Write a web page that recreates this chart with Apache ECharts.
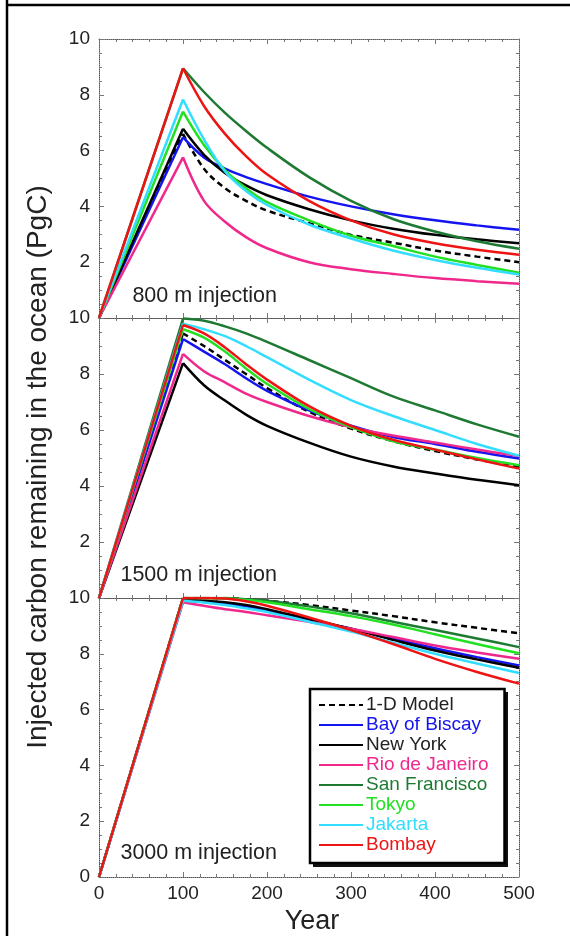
<!DOCTYPE html>
<html><head><meta charset="utf-8">
<script src="https://cdn.jsdelivr.net/npm/echarts@6/dist/echarts.min.js"></script>
<style>html,body{margin:0;padding:0;background:#fff}#c{width:570px;height:936px}</style>
</head><body><div id="c"></div>
<script>
// ---------- data ----------
const years = [0, 100, 125, 150, 175, 200, 250, 300, 350, 400, 450, 500];
const seriesNames = ['1-D Model', 'Bay of Biscay', 'New York', 'Rio de Janeiro', 'San Francisco', 'Tokyo', 'Jakarta', 'Bombay'];
const seriesColors = ['#000000', '#1414f0', '#000000', '#f0288c', '#1e7a32', '#22e022', '#33ddff', '#ee1414'];
const panelLabels = ['800 m injection', '1500 m injection', '3000 m injection'];
const xTicks = [0, 100, 200, 300, 400, 500];
const yTicks = [0, 2, 4, 6, 8, 10];

// 800 m injection
const d800_1D       = [0, 6.60, 5.35, 4.65, 4.20, 3.85, 3.40, 2.98, 2.70, 2.42, 2.20, 2.00];
const d800_Biscay   = [0, 6.48, 5.75, 5.35, 5.05, 4.80, 4.35, 4.00, 3.72, 3.50, 3.32, 3.16];
const d800_NewYork  = [0, 6.78, 5.85, 5.20, 4.75, 4.40, 3.90, 3.50, 3.20, 2.98, 2.82, 2.68];
const d800_Rio      = [0, 5.76, 4.20, 3.45, 2.90, 2.50, 2.00, 1.75, 1.58, 1.43, 1.32, 1.23];
const d800_SanFran  = [0, 8.95, 8.10, 7.35, 6.70, 6.10, 5.05, 4.20, 3.55, 3.10, 2.75, 2.48];
const d800_Tokyo    = [0, 7.40, 6.20, 5.30, 4.65, 4.15, 3.50, 2.95, 2.58, 2.20, 1.90, 1.62];
const d800_Jakarta  = [0, 7.83, 6.40, 5.25, 4.55, 4.05, 3.35, 2.85, 2.42, 2.08, 1.80, 1.56];
const d800_Bombay   = [0, 8.95, 7.60, 6.60, 5.80, 5.15, 4.20, 3.50, 3.00, 2.68, 2.45, 2.27];

// 1500 m injection
const d1500_1D      = [0, 9.45, 9.00, 8.50, 8.00, 7.50, 6.65, 6.05, 5.60, 5.25, 4.95, 4.68];
const d1500_Biscay  = [0, 9.25, 8.80, 8.35, 7.85, 7.40, 6.70, 6.15, 5.75, 5.50, 5.22, 4.98];
const d1500_NewYork = [0, 8.39, 7.60, 7.05, 6.55, 6.15, 5.55, 5.05, 4.70, 4.45, 4.22, 4.03];
const d1500_Rio     = [0, 8.72, 8.10, 7.70, 7.30, 7.00, 6.50, 6.10, 5.80, 5.55, 5.30, 5.07];
const d1500_SanFran = [0, 9.98, 9.90, 9.70, 9.45, 9.15, 8.50, 7.85, 7.20, 6.70, 6.20, 5.76];
const d1500_Tokyo   = [0, 9.60, 9.30, 8.80, 8.20, 7.65, 6.75, 6.10, 5.60, 5.30, 5.00, 4.74];
const d1500_Jakarta = [0, 9.80, 9.60, 9.35, 9.00, 8.60, 7.80, 7.07, 6.50, 6.00, 5.50, 5.08];
const d1500_Bombay  = [0, 9.75, 9.45, 8.95, 8.35, 7.80, 6.85, 6.15, 5.65, 5.30, 4.95, 4.62];

// 3000 m injection
const d3000_1D      = [0, 10.0, 10.0, 10.0, 9.95, 9.90, 9.75, 9.55, 9.35, 9.13, 8.93, 8.74];
const d3000_Biscay  = [0, 9.90, 9.86, 9.80, 9.70, 9.55, 9.20, 8.90, 8.55, 8.20, 7.88, 7.58];
const d3000_NewYork = [0, 9.95, 9.90, 9.85, 9.75, 9.60, 9.25, 8.90, 8.50, 8.12, 7.80, 7.50];
const d3000_Rio     = [0, 9.85, 9.72, 9.60, 9.50, 9.38, 9.15, 8.90, 8.60, 8.30, 8.05, 7.82];
const d3000_SanFran = [0, 10.0, 10.0, 10.0, 9.95, 9.90, 9.70, 9.45, 9.15, 8.85, 8.55, 8.24];
const d3000_Tokyo   = [0, 10.0, 10.0, 9.98, 9.93, 9.85, 9.60, 9.35, 9.05, 8.70, 8.35, 8.02];
const d3000_Jakarta = [0, 9.90, 9.84, 9.75, 9.63, 9.50, 9.15, 8.80, 8.40, 8.00, 7.65, 7.31];
const d3000_Bombay  = [0, 10.0, 10.0, 9.98, 9.88, 9.72, 9.30, 8.85, 8.35, 7.82, 7.35, 6.93];

const panels = [
  [d800_1D, d800_Biscay, d800_NewYork, d800_Rio, d800_SanFran, d800_Tokyo, d800_Jakarta, d800_Bombay],
  [d1500_1D, d1500_Biscay, d1500_NewYork, d1500_Rio, d1500_SanFran, d1500_Tokyo, d1500_Jakarta, d1500_Bombay],
  [d3000_1D, d3000_Biscay, d3000_NewYork, d3000_Rio, d3000_SanFran, d3000_Tokyo, d3000_Jakarta, d3000_Bombay]
];

// ---------- layout ----------
const FONT = "'Liberation Sans', Arial, Helvetica, sans-serif";
const gridTops = [39, 318, 598];
const gridHeights = [279, 280, 279];
const frameLine = { show: true, onZero: false, lineStyle: { color: '#555', width: 1, type: 'dotted' } };
const tickStyle = { color: '#777', width: 1 };

const grids = [], xAxes = [], yAxes = [], series = [];
for (let p = 0; p < 3; p++) {
  grids.push({ left: 99, right: 51, top: gridTops[p], height: gridHeights[p], containLabel: false });
  const xBase = {
    type: 'value', gridIndex: p, min: xTicks[0], max: xTicks[xTicks.length - 1], interval: xTicks[1] - xTicks[0],
    axisLine: frameLine, splitLine: { show: false },
    axisTick: { show: true, inside: true, length: 5, lineStyle: tickStyle },
    minorTick: { show: true, splitNumber: 5, length: 3, lineStyle: tickStyle }
  };
  xAxes.push(Object.assign({}, xBase, {
    position: 'bottom',
    axisLabel: { show: p === 2, fontSize: 19, fontFamily: FONT, color: '#222', margin: 7 }
  }));
  xAxes.push(Object.assign({}, xBase, { position: 'top', axisLabel: { show: false } }));
  const yBase = {
    type: 'value', gridIndex: p, min: yTicks[0], max: yTicks[yTicks.length - 1], interval: yTicks[1] - yTicks[0],
    axisLine: frameLine, splitLine: { show: false },
    axisTick: { show: true, inside: true, length: 5, lineStyle: tickStyle },
    minorTick: { show: true, splitNumber: 4, length: 3, lineStyle: tickStyle }
  };
  yAxes.push(Object.assign({}, yBase, {
    position: 'left',
    axisLabel: { show: true, showMinLabel: p === 2, fontSize: 19, fontFamily: FONT, color: '#222', margin: 9,
                 padding: [0, 0, 8, 0] }
  }));
  yAxes.push(Object.assign({}, yBase, { position: 'right', axisLabel: { show: false } }));

  panels[p].forEach((vals, k) => {
    const pts = years.map((y, i) => [y, vals[i]]);
    const ls = { color: seriesColors[k], width: 2.5, type: k === 0 ? [6, 4] : 'solid' };
    const common = {
      type: 'line', name: seriesNames[k], xAxisIndex: 2 * p, yAxisIndex: 2 * p,
      showSymbol: false, symbol: 'none', lineStyle: ls, itemStyle: { color: seriesColors[k] },
      emphasis: { disabled: true }, z: 2 + k
    };
    series.push(Object.assign({}, common, { data: pts.slice(0, 2), smooth: false }));
    series.push(Object.assign({}, common, { data: pts.slice(1), smooth: 0.35 }));
  });
}

const graphics = [
  { type: 'line', shape: { x1: 7, y1: 0, x2: 7, y2: 936 }, style: { stroke: '#000', lineWidth: 2.5 }, z: 100 },
  { type: 'line', shape: { x1: 6, y1: 5, x2: 570, y2: 5 }, style: { stroke: '#000', lineWidth: 2.5 }, z: 100 },
  { type: 'rect', shape: { x: 534, y: 880, width: 36, height: 26 }, style: { fill: '#fff' }, z: 100 },
  // legend drop shadow
  { type: 'rect', shape: { x: 313, y: 692, width: 195, height: 175 }, style: { fill: '#111' }, z: 1 },
  { type: 'text', x: 38, y: 467, rotation: Math.PI / 2,
    style: { text: 'Injected carbon remaining in the ocean (PgC)', font: "28px " + FONT, fill: '#222',
             textAlign: 'center', textVerticalAlign: 'middle' }, z: 100 },
  { type: 'text', x: 312, y: 922,
    style: { text: 'Year', font: "27px " + FONT, fill: '#222', textAlign: 'center', textVerticalAlign: 'middle' }, z: 100 }
];
const labelYs = [296, 575, 853];
panelLabels.forEach((t, p) => {
  graphics.push({ type: 'text', x: 277, y: labelYs[p],
    style: { text: t, font: "21.5px " + FONT, fill: '#222', textAlign: 'right', textVerticalAlign: 'middle' }, z: 100 });
});

const option = {
  animation: false,
  backgroundColor: '#fff',
  grid: grids, xAxis: xAxes, yAxis: yAxes, series: series,
  legend: {
    orient: 'vertical', left: 310, top: 689, z: 20,
    padding: [6, 16, 8, 8], itemGap: 0, itemWidth: 44, itemHeight: 14,
    backgroundColor: '#fff', borderColor: '#000', borderWidth: 2.5, borderRadius: 0,
    selectedMode: false,
    itemStyle: { opacity: 0, borderWidth: 0 },
    textStyle: { fontSize: 19, fontFamily: FONT, lineHeight: 20, padding: [0, 0, 0, -2] },
    data: seriesNames.map((n, k) => ({ name: n, textStyle: { color: k === 0 || k === 2 ? '#222' : seriesColors[k] } }))
  },
  graphic: graphics
};
echarts.init(document.getElementById('c')).setOption(option);
</script></body></html>
